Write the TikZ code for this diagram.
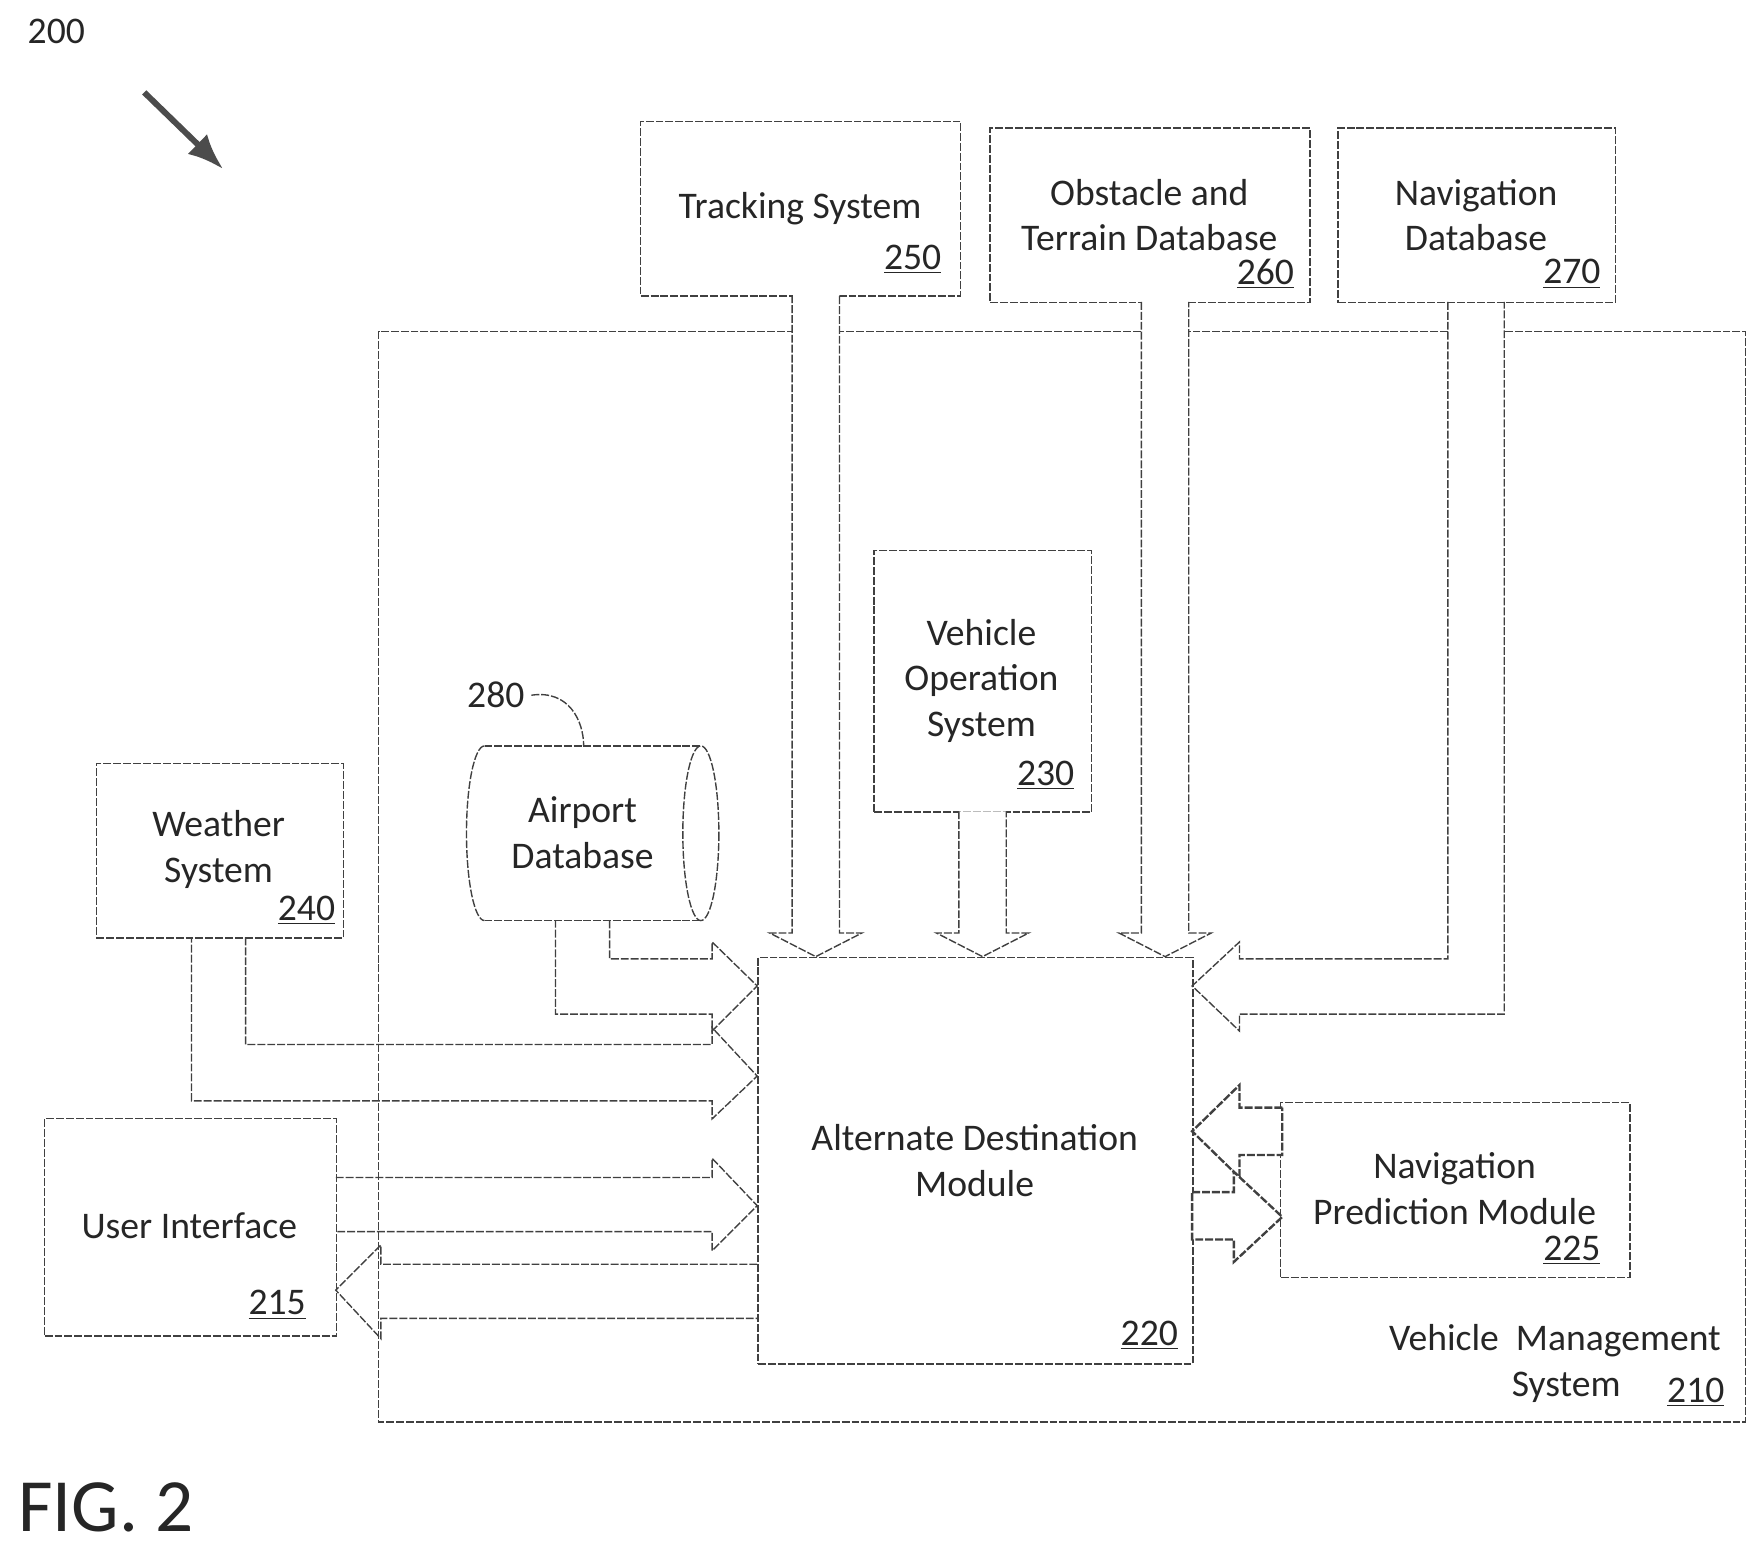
\documentclass[tikz,border=0pt]{standalone}
\usepackage{fontspec}
\usetikzlibrary{arrows.meta}
\setmainfont{Carlito}
\begin{document}
\begin{tikzpicture}[x=0.02cm,y=-0.02cm,
  ln/.style={draw=black!75,line width=0.7pt,dash pattern=on 4pt off 1pt},
  bx/.style={ln,rectangle,inner sep=0pt,anchor=north west},
  tx/.style={font=\fontsize{19}{23}\selectfont,align=center,text=black!85},
  num/.style={font=\fontsize{19}{22}\selectfont,text=black!85}]
\useasboundingbox (0,0) rectangle (1562,1375);
\node[num] (n200) at (50,28) {200};
\coordinate (a1) at (128,82); \coordinate (a2) at (198,150);
\draw[line width=3pt,black!70,-{Latex[length=18pt,width=14pt]}] (a1) -- (a2);
% VMS outline
\draw[ln] (1285,294) -- (336,294) -- (336,1262) -- (1549,1262) -- (1549,294) -- (1335,294);
% boxes
\node[bx,minimum width=284*0.02cm,minimum height=155*0.02cm] (ts) at (568,107) {};
\node[tx] at (710,185) {Tracking System};
\node[num] at (810,230) {\underline{250}};
\node[bx,minimum width=284*0.02cm,minimum height=155*0.02cm] (ot) at (878,113) {};
\node[tx] at (1020,191) {Obstacle and\\Terrain Database};
\node[num] at (1123,243) {\underline{260}};
\node[bx,minimum width=246*0.02cm,minimum height=155*0.02cm] (nd) at (1187,113) {};
\node[tx] at (1310,191) {Navigation\\Database};
\node[num] at (1395,243) {\underline{270}};
\node[bx,minimum width=193*0.02cm,minimum height=232*0.02cm] (vo) at (775,488) {};
\node[tx] at (871,604) {Vehicle\\Operation\\System};
\node[num] at (928,688) {\underline{230}};
\node[bx,minimum width=219*0.02cm,minimum height=155*0.02cm] (ws) at (85,677) {};
\node[tx] at (194,754) {Weather\\System};
\node[num] at (272,808) {\underline{240}};
\node[bx,minimum width=259*0.02cm,minimum height=193*0.02cm] (ui) at (39,992) {};
\node[tx] at (168,1088) {User Interface};
\node[num] at (246,1158) {\underline{215}};
\node[bx,minimum width=386*0.02cm,minimum height=361*0.02cm,fill=white] (adm) at (672,849) {};
\node[tx] at (865,1030) {Alternate Destination\\Module};
\node[num] at (1020,1185) {\underline{220}};
\node[bx,minimum width=310*0.02cm,minimum height=155*0.02cm] (np) at (1136,978) {};
\node[tx] at (1291,1055) {Navigation\\Prediction Module};
\node[num] at (1395,1110) {\underline{225}};
\node[tx] at (1380,1190) {Vehicle\ \ Management};
\node[tx] at (1390,1231) {System};
\node[num] at (1505,1236) {\underline{210}};
% airport cylinder
\draw[ln] (430,662) -- (622,662) (430,817) -- (622,817);
\draw[ln] (430,662) arc[start angle=270,end angle=90,x radius=16,y radius=77.5];
\draw[ln] (622,739.5) ellipse[x radius=16,y radius=77.5];
\node[tx] (adb) at (517,739) {Airport\\Database};
\node[num] (n280) at (440,617) {280};
\draw[ln] (n280.east) .. controls (505,612) and (518,640) .. (518,662);
% big down arrows
\draw[ln,fill=white] (703,262) -- (703,828) -- (683,828) -- (724,849) -- (765,828) -- (745,828) -- (745,262);
\draw[ln,fill=white] (1013,268) -- (1013,828) -- (993,828) -- (1034,849) -- (1075,828) -- (1055,828) -- (1055,268);
\draw[ln,fill=white] (851,720) -- (851,828) -- (831,828) -- (872,849) -- (913,828) -- (893,828) -- (893,720);
% nav db arrow
\draw[ln] (1285,268) -- (1285,851) -- (1100,851) -- (1100,836) -- (1058,875) -- (1100,915) -- (1100,900) -- (1335,900) -- (1335,268);
% airport arrow
\draw[ln] (541,817) -- (541,851) -- (632,851) -- (632,836) -- (672,875) -- (632,915) -- (632,900) -- (493,900) -- (493,817);
% weather arrow
\draw[ln] (218,832) -- (218,927) -- (632,927) -- (632,912) -- (672,955) -- (632,993) -- (632,977) -- (170,977) -- (170,832);
% UI -> ADM
\draw[ln] (298,1045) -- (632,1045) -- (632,1028) -- (672,1070) -- (632,1110) -- (632,1093) -- (298,1093);
% ADM -> UI
\draw[ln] (672,1122) -- (338,1122) -- (338,1105) -- (298,1145) -- (338,1188) -- (338,1170) -- (672,1170);
% ADM <-> NPM
\draw[ln,line width=1.2pt,fill=white] (1138,983) -- (1100,983) -- (1100,963) -- (1058,1004) -- (1100,1045) -- (1100,1025) -- (1138,1025) -- cycle;
\draw[ln,line width=1.2pt,fill=white] (1058,1058) -- (1095,1058) -- (1095,1040) -- (1138,1080) -- (1095,1120) -- (1095,1100) -- (1058,1100) -- cycle;
\node[font=\fontsize{38}{40}\selectfont,text=black!85] (fig) at (94,1338) {FIG. 2};
\end{tikzpicture}
\end{document}
